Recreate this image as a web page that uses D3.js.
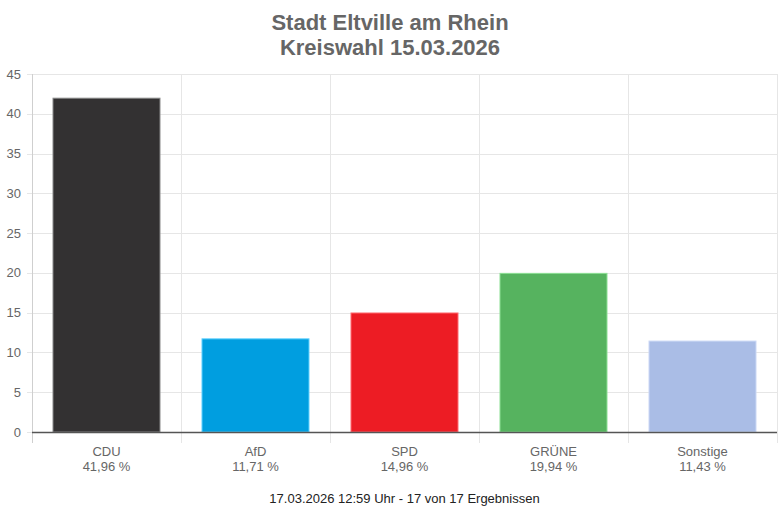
<!DOCTYPE html>
<html><head><meta charset="utf-8">
<script src="https://cdn.jsdelivr.net/npm/d3@7"></script>
<style>body{margin:0;background:#fff}svg{display:block;font-family:"Liberation Sans",Arial,sans-serif}</style>
</head><body><svg id="c" width="780" height="513"></svg>
<script>
const categories = ["CDU","AfD","SPD","GRÜNE","Sonstige"];
const values = [41.96, 11.71, 14.96, 19.94, 11.43];
const valueLabels = ["41,96 %","11,71 %","14,96 %","19,94 %","11,43 %"];
const colors = ["#333132","#009ee0","#ed1c24","#56b35f","#aabde6"];
const borders = ["#8a8a8a","#5fd0ff","#ff6b70","#8ce094","#cbd8f5"];
const yTicks = [0,5,10,15,20,25,30,35,40,45];
const titleLines = ["Stadt Eltville am Rhein","Kreiswahl 15.03.2026"];
const footer = "17.03.2026 12:59 Uhr - 17 von 17 Ergebnissen";

const svg = d3.select("#c");
const L = 32, R = 777, T = 74, B = 432;
const x = d3.scaleBand().domain(categories).range([L, R]).paddingInner(0).paddingOuter(0);
const y = d3.scaleLinear().domain([0,45]).range([B, T]);

// horizontal grid
svg.append("g").selectAll("line").data(yTicks).join("line")
  .attr("x1", L-5).attr("x2", R).attr("y1", d=>Math.round(y(d))+0.5).attr("y2", d=>Math.round(y(d))+0.5)
  .attr("stroke","#e6e6e6").attr("stroke-width",1);
// vertical grid
const vx = categories.map(c=>x(c)).concat([R]);
svg.append("g").selectAll("line").data(vx).join("line")
  .attr("x1", d=>Math.round(d)+0.5).attr("x2", d=>Math.round(d)+0.5).attr("y1", T).attr("y2", B+11)
  .attr("stroke", (d,i)=> i===0 ? "#cfcfcf" : "#e6e6e6").attr("stroke-width",1);

// y tick labels
svg.append("g").selectAll("text").data(yTicks).join("text")
  .attr("x", L-11).attr("y", d=>y(d)).attr("dy","0.35em").attr("text-anchor","end")
  .attr("font-size",13).attr("fill","#666").text(d=>d);

// bars
const bw = 107;
svg.append("g").selectAll("rect").data(values).join("rect")
  .attr("x",(d,i)=>x(categories[i]) + (x.bandwidth()-bw)/2)
  .attr("width", bw)
  .attr("y", d=>y(d)).attr("height", d=>B-y(d))
  .attr("fill",(d,i)=>colors[i]).attr("stroke",(d,i)=>borders[i]).attr("stroke-width",1);

// x axis line
svg.append("line").attr("x1",L).attr("x2",R).attr("y1",B+0.5).attr("y2",B+0.5)
  .attr("stroke","#555").attr("stroke-width",1.5);

// category labels
const xl = svg.append("g");
xl.selectAll("text.c").data(categories).join("text").attr("class","c")
  .attr("x", d=>x(d)+x.bandwidth()/2).attr("y", 456).attr("text-anchor","middle")
  .attr("font-size",13).attr("fill","#666").text(d=>d);
xl.selectAll("text.v").data(valueLabels).join("text").attr("class","v")
  .attr("x", (d,i)=>x(categories[i])+x.bandwidth()/2).attr("y", 471).attr("text-anchor","middle")
  .attr("font-size",13).attr("fill","#666").text(d=>d);

// title
svg.selectAll("text.t").data(titleLines).join("text").attr("class","t")
  .attr("x", 390).attr("y",(d,i)=>30+i*25).attr("text-anchor","middle")
  .attr("font-size",22).attr("font-weight","bold").attr("fill","#666").text(d=>d);

// footer
svg.append("text").attr("x",(L+R)/2).attr("y",503).attr("text-anchor","middle")
  .attr("font-size",13).attr("fill","#222").text(footer);
</script></body></html>
